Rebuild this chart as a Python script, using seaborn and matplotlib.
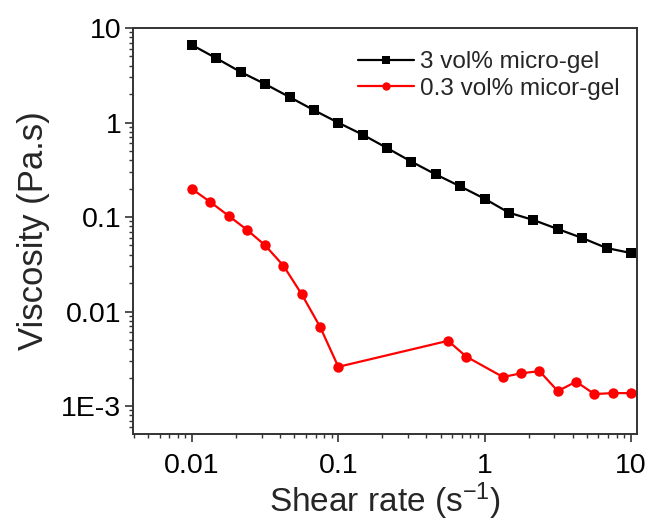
import numpy as np
import pandas as pd
import matplotlib
matplotlib.use("Agg")
import matplotlib.pyplot as plt
import matplotlib.ticker as mticker
import seaborn as sns

# ---- data ----
shear_3 = [0.01, 0.01468, 0.02154, 0.03162, 0.04642, 0.06813, 0.1, 0.1468, 0.2154,
           0.3162, 0.4642, 0.6813, 1.0, 1.468, 2.154, 3.162, 4.642, 6.813, 10.0]
visc_3 = [6.6, 4.78, 3.42, 2.55, 1.86, 1.35, 0.995, 0.743, 0.537,
          0.385, 0.282, 0.211, 0.156, 0.111, 0.093, 0.0746, 0.060, 0.047, 0.0416]

shear_03 = [0.01, 0.01334, 0.01778, 0.02371, 0.03162, 0.04217, 0.05623, 0.07499, 0.1,
            0.5623, 0.7499, 1.334, 1.778, 2.371, 3.162, 4.217, 5.623, 7.499, 10.0]
visc_03 = [0.198, 0.144, 0.103, 0.0734, 0.0501, 0.0305, 0.0152, 0.0069, 0.0026,
           0.0049, 0.00333, 0.00203, 0.00222, 0.00234, 0.00144, 0.00181, 0.00134, 0.00137, 0.00137]

label_3 = "3 vol% micro-gel"
label_03 = "0.3 vol% micor-gel"

x_ticks = [0.01, 0.1, 1, 10]
x_ticklabels = ["0.01", "0.1", "1", "10"]
y_ticks = [0.001, 0.01, 0.1, 1, 10]
y_ticklabels = ["1E-3", "0.01", "0.1", "1", "10"]

x_label = r"Shear rate (s$^{-1}$)"
y_label = "Viscosity (Pa.s)"

# ---- style ----
sns.set_style("ticks")
plt.rcParams["font.family"] = ["Liberation Sans", "DejaVu Sans"]
plt.rcParams["mathtext.fontset"] = "custom"
plt.rcParams["mathtext.rm"] = "Liberation Sans"
plt.rcParams["mathtext.it"] = "Liberation Sans:italic"
plt.rcParams["mathtext.default"] = "regular"

fig = plt.figure(figsize=(6.5, 5.25), dpi=100)
ax = fig.add_axes([133 / 650, 1 - 434 / 525, (637 - 133) / 650, (434 - 28) / 525])

df3 = pd.DataFrame({"x": shear_3, "y": visc_3})
df03 = pd.DataFrame({"x": shear_03, "y": visc_03})

sns.lineplot(data=df3, x="x", y="y", ax=ax, color="black", marker="s",
             markersize=6.5, markeredgewidth=0, linewidth=1.6, sort=False, label=label_3)
sns.lineplot(data=df03, x="x", y="y", ax=ax, color="#ff0000", marker="o",
             markersize=7.5, markeredgewidth=0, linewidth=1.6, sort=False, label=label_03)

ax.set_xscale("log")
ax.set_yscale("log")
ax.set_xlim(0.00395, 11.0)
ax.set_ylim(5.06e-4, 10)

ax.xaxis.set_major_locator(mticker.FixedLocator(x_ticks))
ax.xaxis.set_major_formatter(mticker.FixedFormatter(x_ticklabels))
ax.yaxis.set_major_locator(mticker.FixedLocator(y_ticks))
ax.yaxis.set_major_formatter(mticker.FixedFormatter(y_ticklabels))
ax.xaxis.set_minor_locator(mticker.LogLocator(base=10, subs=np.arange(2, 10), numticks=20))
ax.yaxis.set_minor_locator(mticker.LogLocator(base=10, subs=np.arange(2, 10), numticks=20))
ax.xaxis.set_minor_formatter(mticker.NullFormatter())
ax.yaxis.set_minor_formatter(mticker.NullFormatter())

ax.tick_params(axis="both", which="major", direction="out", length=5.5, width=1.2,
               labelsize=20.5, color="#333333", labelcolor="black")
ax.tick_params(axis="x", which="major", pad=8)
ax.tick_params(axis="y", which="major", pad=3)
ax.tick_params(axis="both", which="minor", direction="out", length=3.2, width=1.0,
               color="#333333")
ax.tick_params(top=False, right=False, which="both")

for sp in ax.spines.values():
    sp.set_visible(True)
    sp.set_linewidth(1.4)
    sp.set_color("#333333")

ax.set_xlabel(x_label, fontsize=24, labelpad=1)
ax.set_ylabel(y_label, fontsize=25, labelpad=8)

leg = ax.legend(loc="upper right", frameon=False, fontsize=17.5, handlelength=2.3,
                handletextpad=0.25, labelspacing=0.2, borderaxespad=0.3,
                bbox_to_anchor=(1.0, 0.985))
for h in leg.legend_handles:
    h.set_markersize(6)

fig.savefig("out.png", dpi=100)
